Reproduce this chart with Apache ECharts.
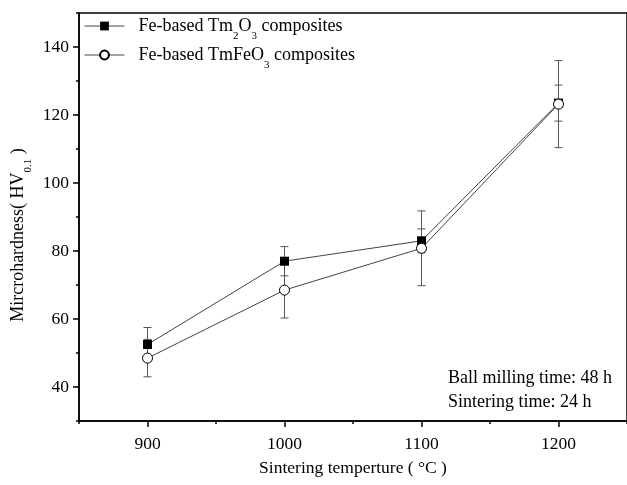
<!DOCTYPE html>
<html>
<head>
<meta charset="utf-8">
<script src="https://cdn.jsdelivr.net/npm/echarts@6/dist/echarts.min.js"></script>
<style>
  html, body { margin: 0; padding: 0; background: #fff; }
  #chart { width: 627px; height: 485px; }
</style>
</head>
<body>
<div id="chart"></div>
<script>
// Sintering temperatures (°C)
const temps = [900, 1000, 1100, 1200];
// Fe-based Tm2O3 composites: microhardness and error
const tm2o3 = [52.5, 77, 83, 123.5];
const tm2o3Err = [5, 4.3, 3.5, 5.3];
// Fe-based TmFeO3 composites: microhardness and error
const tmfeo3 = [48.5, 68.5, 80.8, 123.2];
const tmfeo3Err = [5.5, 8.2, 11, 12.8];

// Axis tick positions
const xMajor = [900, 1000, 1100, 1200];
const xMinor = [850, 950, 1050, 1150, 1250];
const yMajor = [40, 60, 80, 100, 120, 140];
const yMinor = [30, 50, 70, 90, 110, 130, 150];

const FONT = 'Liberation Serif';

function errorBars(values, errs) {
  return temps.map((t, i) => [t, values[i] - errs[i], values[i] + errs[i]]);
}

function renderErr(params, api) {
  const lo = api.coord([api.value(0), api.value(1)]);
  const hi = api.coord([api.value(0), api.value(2)]);
  const hw = 4;
  const style = { stroke: '#555', lineWidth: 1, fill: null };
  return {
    type: 'group',
    children: [
      { type: 'line', shape: { x1: lo[0], y1: lo[1], x2: hi[0], y2: hi[1] }, style },
      { type: 'line', shape: { x1: lo[0] - hw, y1: lo[1], x2: lo[0] + hw, y2: lo[1] }, style },
      { type: 'line', shape: { x1: hi[0] - hw, y1: hi[1], x2: hi[0] + hw, y2: hi[1] }, style }
    ]
  };
}

const subRich = {
  n: { fontFamily: FONT, fontSize: 18, color: '#000' },
  s: { fontFamily: FONT, fontSize: 11, color: '#000', verticalAlign: 'bottom', padding: [0, 0, -7, 0] }
};

const chart = echarts.init(document.getElementById('chart'), null, { renderer: 'canvas' });

const xBase = { type: 'value', min: 850, max: 1250, gridIndex: 0 };
const yBase = { type: 'value', min: 30, max: 150, gridIndex: 0 };

chart.setOption({
  animation: false,
  backgroundColor: '#fff',
  grid: {
    left: 79, top: 13, right: -4, bottom: 64,
    show: true, borderColor: '#000', borderWidth: 1.5, backgroundColor: 'transparent'
  },
  legend: {
    left: 79, top: 12, orient: 'vertical', itemGap: 4,
    itemWidth: 40, itemHeight: 11,
    data: ['tm2o3', 'tmfeo3'],
    lineStyle: { width: 1, color: '#444' },
    formatter: function (name) {
      return name === 'tm2o3'
        ? '{n|Fe-based Tm}{s|2}{n|O}{s|3}{n| composites}'
        : '{n|Fe-based TmFeO}{s|3}{n| composites}';
    },
    textStyle: { fontFamily: FONT, fontSize: 18, color: '#000', padding: [0, 0, 0, 9], rich: subRich }
  },
  xAxis: [
    Object.assign({}, xBase, {
      position: 'bottom',
      name: 'Sintering temperture ( °C )',
      nameLocation: 'middle', nameGap: 38,
      nameTextStyle: { fontFamily: FONT, fontSize: 17.5, color: '#000' },
      axisLine: { show: true, lineStyle: { color: '#000', width: 1.5 } },
      axisTick: { show: true, length: 6, inside: false, customValues: xMajor, lineStyle: { color: '#000', width: 1.5 } },
      axisLabel: { customValues: xMajor, formatter: v => String(v), fontFamily: FONT, fontSize: 17.5, color: '#000', margin: 14 },
      splitLine: { show: false }
    }),
    Object.assign({}, xBase, {
      position: 'bottom',
      axisLine: { show: false },
      axisTick: { show: true, length: 3, customValues: xMinor, lineStyle: { color: '#000', width: 1.5 } },
      axisLabel: { show: false },
      splitLine: { show: false }
    })
  ],
  yAxis: [
    Object.assign({}, yBase, {
      position: 'left',
      axisLine: { show: true, lineStyle: { color: '#000', width: 1.5 } },
      axisTick: { show: true, length: 6, customValues: yMajor, lineStyle: { color: '#000', width: 1.5 } },
      axisLabel: { customValues: yMajor, formatter: v => String(v), fontFamily: FONT, fontSize: 17.5, color: '#000', margin: 10 },
      splitLine: { show: false }
    }),
    Object.assign({}, yBase, {
      position: 'left',
      axisLine: { show: false },
      axisTick: { show: true, length: 3, customValues: yMinor, lineStyle: { color: '#000', width: 1.5 } },
      axisLabel: { show: false },
      splitLine: { show: false }
    })
  ],
  graphic: [
    {
      type: 'text', x: 18, y: 235, rotation: Math.PI / 2,
      style: {
        text: '{n|Mircrohardness( HV}{s|0.1}{n| )}',
        align: 'center', verticalAlign: 'middle',
        rich: {
          n: { fontFamily: FONT, fontSize: 18, fill: '#000' },
          s: { fontFamily: FONT, fontSize: 11, fill: '#000', verticalAlign: 'bottom', padding: [0, 0, -7, 0] }
        }
      }
    },
    { type: 'text', left: 448, top: 369, style: { text: 'Ball milling time: 48 h', font: '18px "Liberation Serif"', fill: '#000' } },
    { type: 'text', left: 448, top: 393, style: { text: 'Sintering time: 24 h', font: '18px "Liberation Serif"', fill: '#000' } }
  ],
  series: [
    {
      type: 'custom', name: 'errA', xAxisIndex: 0, yAxisIndex: 0,
      data: errorBars(tm2o3, tm2o3Err), renderItem: renderErr, z: 1, silent: true
    },
    {
      type: 'custom', name: 'errB', xAxisIndex: 0, yAxisIndex: 0,
      data: errorBars(tmfeo3, tmfeo3Err), renderItem: renderErr, z: 1, silent: true
    },
    {
      type: 'line', name: 'tm2o3', xAxisIndex: 0, yAxisIndex: 0,
      data: temps.map((t, i) => [t, tm2o3[i]]),
      symbol: 'rect', symbolSize: 9,
      lineStyle: { color: '#444', width: 1 },
      itemStyle: { color: '#000', borderColor: '#000', borderWidth: 0 },
      z: 3
    },
    {
      type: 'line', name: 'tmfeo3', xAxisIndex: 0, yAxisIndex: 0,
      data: temps.map((t, i) => [t, tmfeo3[i]]),
      symbol: 'circle', symbolSize: 10, showAllSymbol: true,
      lineStyle: { color: '#444', width: 1 },
      itemStyle: { color: '#fff', borderColor: '#000', borderWidth: 1 },
      z: 4
    }
  ]
});
</script>
</body>
</html>
